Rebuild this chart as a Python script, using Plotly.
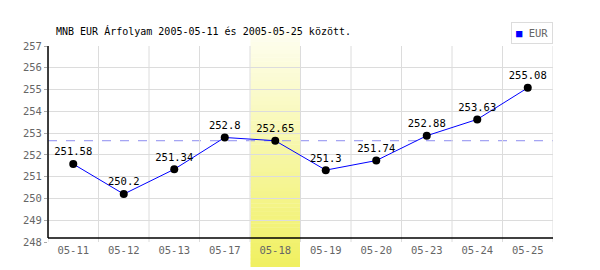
import plotly.graph_objects as go

categories = ["05-11", "05-12", "05-13", "05-17", "05-18", "05-19", "05-20", "05-23", "05-24", "05-25"]
eur_values = [251.58, 250.2, 251.34, 252.8, 252.65, 251.3, 251.74, 252.88, 253.63, 255.08]
value_labels = ["251.58", "250.2", "251.34", "252.8", "252.65", "251.3", "251.74", "252.88", "253.63", "255.08"]
highlight_day = "05-18"
reference_value = 252.65
y_ticks = [248, 249, 250, 251, 252, 253, 254, 255, 256, 257]
title_text = "MNB EUR Árfolyam 2005-05-11 és 2005-05-25 között."
series_name = "EUR"

FONT = "DejaVu Sans Mono"
xs = list(range(len(categories)))
hi = categories.index(highlight_day)

fig = go.Figure()

fig.add_trace(go.Scatter(
    x=xs, y=eur_values, mode="lines+markers+text",
    line=dict(color="#0000ff", width=1),
    marker=dict(color="black", size=8),
    text=value_labels, textposition="top center",
    textfont=dict(family=FONT, size=10.5, color="black"),
    cliponaxis=False, showlegend=False, name=series_name,
))

shapes = []
# gradient highlight band
n = 60
top_c = (254, 254, 242)
bot_c = (240, 240, 96)
p_top, p_bot = 1.082, -0.128
for i in range(n):
    t = (i + 0.5) / n
    c = tuple(round(top_c[k] + (bot_c[k] - top_c[k]) * t) for k in range(3))
    y1 = p_top + (p_bot - p_top) * i / n
    y0 = p_top + (p_bot - p_top) * (i + 1) / n
    shapes.append(dict(type="rect", xref="x", yref="paper", x0=hi - 0.49, x1=hi + 0.49,
                       y0=y0, y1=y1 + 0.002, fillcolor="rgb(%d,%d,%d)" % c,
                       line=dict(width=0), layer="below"))
# reference dashed line
shapes.append(dict(type="line", xref="paper", yref="y", x0=0, x1=1,
                   y0=reference_value, y1=reference_value,
                   line=dict(color="#8c8cf0", width=1, dash="dash"), layer="below"))
# axis lines
shapes.append(dict(type="line", xref="paper", yref="y", x0=0, x1=1, y0=248.18, y1=248.18,
                   line=dict(color="black", width=1.5)))
shapes.append(dict(type="line", xref="paper", yref="y", x0=0, x1=0, y0=248.18, y1=257,
                   line=dict(color="black", width=1.5)))

fig.update_layout(
    width=600, height=270,
    margin=dict(l=48, r=47, t=46, b=28),
    paper_bgcolor="white", plot_bgcolor="white",
    shapes=shapes,
    xaxis=dict(range=[-0.5, len(categories) - 0.5], tickvals=xs, ticktext=categories,
               showgrid=False, zeroline=False, showline=False,
               tickfont=dict(family=FONT, size=10.5, color="#666666"), ticks=""),
    yaxis=dict(range=[248, 257], tickvals=y_ticks, showgrid=True, gridcolor="#dcdcdc",
               gridwidth=1, zeroline=False, showline=False,
               ticks="outside", ticklen=3, tickcolor="#aaaaaa",
               tickfont=dict(family=FONT, size=10.5, color="#666666")),
    annotations=[
        dict(text=title_text, xref="paper", yref="paper", x=0.012, y=1.075,
             xanchor="left", yanchor="middle", showarrow=False,
             font=dict(family=FONT, size=10, color="black")),
        dict(text="<span style='color:#0000ff'>■</span> " + series_name, xref="paper", yref="paper",
             x=1.0, y=1.122, xanchor="right", yanchor="top", showarrow=False,
             bordercolor="#dcdcdc", borderwidth=1, borderpad=4, bgcolor="white",
             font=dict(family=FONT, size=10.5, color="#666666")),
    ],
)
# vertical gridlines at category boundaries
for b in range(len(categories) + 1):
    fig.add_shape(type="line", xref="x", yref="y", x0=b - 0.5, x1=b - 0.5, y0=248, y1=257,
                  line=dict(color="#dcdcdc", width=1), layer="below")

fig.write_html("out.html")
